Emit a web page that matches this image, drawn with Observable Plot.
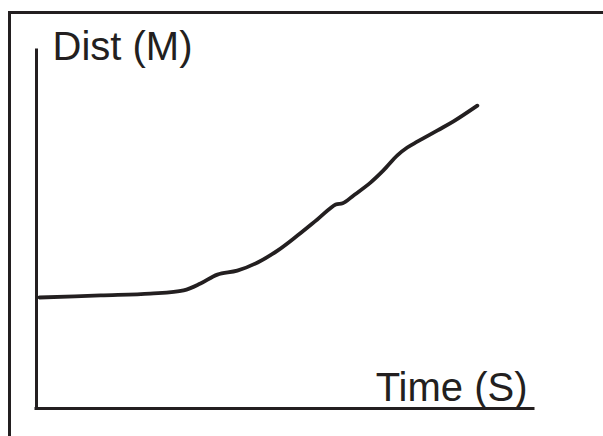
<!DOCTYPE html>
<html>
<head>
<meta charset="utf-8">
<script src="https://cdn.jsdelivr.net/npm/d3@7"></script>
<script src="https://cdn.jsdelivr.net/npm/@observablehq/plot@0.6"></script>
<style>
  html, body { margin: 0; padding: 0; width: 603px; height: 436px; overflow: hidden; background: #fff; }
  #frame { position: absolute; left: 8px; top: 11px; width: 700px; height: 600px;
           border-left: 3px solid #231f20; border-top: 3.5px solid #231f20; box-sizing: border-box; }
  #chart { position: absolute; left: 0; top: 0; }
</style>
</head>
<body>
<div id="frame"></div>
<div id="chart"></div>
<script>
const time = [0.06, 1.29, 2.29, 2.96, 3.30, 3.64, 4.04, 4.45, 4.85, 5.25, 5.65, 6.02, 6.16, 6.38, 6.72, 6.98, 7.26, 7.46, 7.67, 8.07, 8.39, 8.87];
const dist = [3.10, 3.16, 3.21, 3.30, 3.49, 3.74, 3.85, 4.08, 4.41, 4.83, 5.28, 5.70, 5.73, 5.95, 6.31, 6.65, 7.07, 7.29, 7.46, 7.77, 8.02, 8.46];
const xLabel = "Time (S)";
const yLabel = "Dist (M)";

const data = time.map((t, i) => ({time: t, dist: dist[i]}));
const ink = "#231f20";
const font = "'Liberation Sans', Arial, Helvetica, sans-serif";

const chart = Plot.plot({
  width: 603,
  height: 436,
  marginLeft: 36,
  marginRight: 70,
  marginTop: 50,
  marginBottom: 28,
  x: {domain: [0, 10], axis: null},
  y: {domain: [0, 10], axis: null},
  style: {fontFamily: font, background: "transparent", overflow: "visible"},
  marks: [
    Plot.ruleX([0], {stroke: ink, strokeWidth: 3, strokeLinecap: "square"}),
    Plot.ruleY([0], {stroke: ink, strokeWidth: 3, strokeLinecap: "square"}),
    Plot.line(data, {x: "time", y: "dist", stroke: ink, strokeWidth: 3.8, curve: "catmull-rom"}),
    Plot.text([yLabel], {frameAnchor: "top-left", text: d => d, textAnchor: "start", lineAnchor: "bottom",
      dx: 16, dy: 9, fontSize: 40, fill: ink, fontFamily: font}),
    Plot.text([xLabel], {frameAnchor: "bottom-right", text: d => d, textAnchor: "end", lineAnchor: "bottom",
      dx: -6, dy: -8, fontSize: 40, fill: ink, fontFamily: font})
  ]
});
document.getElementById("chart").appendChild(chart);
</script>
</body>
</html>
